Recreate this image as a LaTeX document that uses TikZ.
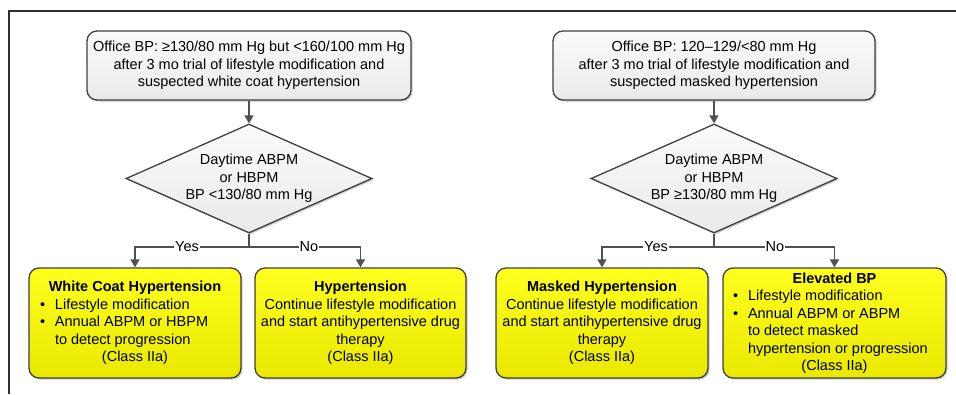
\documentclass[tikz,border=0pt]{standalone}
\usepackage{fontspec}
\setmainfont{Liberation Sans}
\usetikzlibrary{shapes.geometric,arrows.meta,shadows}
\definecolor{edgec}{HTML}{404040}
\definecolor{connc}{HTML}{505050}
\definecolor{framec}{HTML}{303030}
\definecolor{ytop}{RGB}{255,255,30}
\definecolor{ybot}{RGB}{232,232,0}
\definecolor{gtop}{RGB}{250,250,250}
\definecolor{gbot}{RGB}{234,234,234}
\newcommand\bline[2]{\makebox[#1][l]{#2}}
\newcommand\bul{\makebox[15pt][l]{\textbullet}}
\begin{document}
\begin{tikzpicture}[x=1pt,y=-1pt,
  every node/.style={font=\fontsize{14.5}{17.5}\selectfont},
  shad/.style={drop shadow={shadow xshift=1.5pt,shadow yshift=-1.5pt,opacity=0.35,fill=black!60}},
  startbox/.style={draw=edgec, line width=1.3pt, rounded corners=10pt, top color=gtop, bottom color=gbot,
    minimum width=#1, minimum height=69pt, align=center, inner sep=0pt, shad},
  decbox/.style={diamond, aspect=2.26, draw=edgec, line width=1.3pt, top color=gtop, bottom color=gbot,
    minimum width=246pt, minimum height=109pt, inner sep=0pt, align=center, shad},
  resbox/.style={draw=edgec, line width=1.3pt, rounded corners=10pt, top color=ytop, bottom color=ybot,
    minimum width=#1, minimum height=110pt, align=center, inner sep=0pt, shad},
  conn/.style={draw=connc, line width=1.5pt},
  arr/.style={conn, -{Triangle[length=8pt,width=9pt]}},
  lbl/.style={fill=white, inner sep=1pt}
]
\useasboundingbox (0,0) rectangle (956,394);
\fill[white] (0,0) rectangle (956,394);
\coordinate (fa) at (9,394);
\coordinate (fb) at (9,11);
\coordinate (fc) at (956,11);
\draw[framec, line width=1.6pt] (fa) -- (fb) -- (fc);

% ---------- left flow ----------
\node[startbox=324pt] (top1) at (249,65.5)
  {Office BP: ≥130/80 mm Hg but <160/100 mm Hg\\after 3 mo trial of lifestyle modification and\\suspected white coat hypertension};
\node[decbox] (d1) at (249,178.5) {Daytime ABPM\\or HBPM\\BP <130/80 mm Hg};
\coordinate (j1) at (249,247);
\node[resbox=212pt] (wch) at (135,323)
  {\textbf{White Coat Hypertension}\\
   \bline{190pt}{\bul Lifestyle modification}\\
   \bline{190pt}{\bul Annual ABPM or HBPM}\\
   \bline{190pt}{\hspace*{15pt}to detect progression}\\
   (Class IIa)};
\node[resbox=211pt] (ht) at (360.5,323)
  {\textbf{Hypertension}\\Continue lifestyle modification\\and start antihypertensive drug\\therapy\\(Class IIa)};
\draw[arr] (top1) -- (d1);
\draw[conn] (d1.south) -- (j1);
\draw[arr] (j1) -| (wch.north);
\draw[arr] (j1) -| (ht.north);
\node[lbl] (yes1) at (187,247) {Yes};
\node[lbl] (no1) at (309,247) {No};

% ---------- right flow ----------
\node[startbox=322pt] (top2) at (714,65.5)
  {Office BP: 120–129/<80 mm Hg\\after 3 mo trial of lifestyle modification and\\suspected masked hypertension};
\node[decbox] (d2) at (714,178.5) {Daytime ABPM\\or HBPM\\BP ≥130/80 mm Hg};
\coordinate (j2) at (714,247);
\node[resbox=212pt] (mh) at (602,323)
  {\textbf{Masked Hypertension}\\Continue lifestyle modification\\and start antihypertensive drug\\therapy\\(Class IIa)};
\node[resbox=223pt] (eb) at (834.5,323)
  {\textbf{Elevated BP}\\
   \bline{203pt}{\bul Lifestyle modification}\\
   \bline{203pt}{\bul Annual ABPM or ABPM}\\
   \bline{203pt}{\hspace*{15pt}to detect masked}\\
   \bline{203pt}{\hspace*{15pt}hypertension or progression}\\
   (Class IIa)};
\draw[arr] (top2) -- (d2);
\draw[conn] (d2.south) -- (j2);
\draw[arr] (j2) -| (mh.north);
\draw[arr] (j2) -| (eb.north);
\node[lbl] (yes2) at (656,247) {Yes};
\node[lbl] (no2) at (775,247) {No};
\end{tikzpicture}
\end{document}
